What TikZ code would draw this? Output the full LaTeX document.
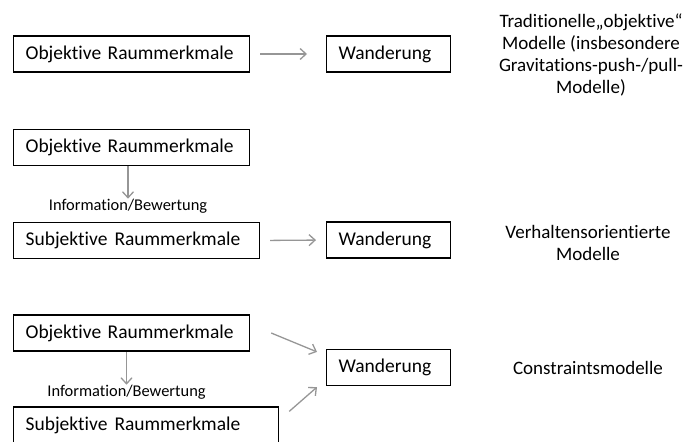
\documentclass[tikz,border=0pt]{standalone}
\usepackage{fontspec}
\setmainfont{Carlito}[Ligatures={NoCommon}]
\usetikzlibrary{arrows.meta}
\usetikzlibrary{calc}
\pgfdeclarelayer{edgelayer}
\pgfdeclarelayer{nodelayer}
\pgfsetlayers{edgelayer,nodelayer,main}
\definecolor{arrowgray}{RGB}{150,150,150}
\tikzstyle{none}=[inner sep=0pt]
\tikzstyle{box}=[rectangle,draw=black,line width=1.2pt,fill=white,anchor=west,minimum height=36pt,inner xsep=12pt,inner ysep=0pt,align=left,font=\fontsize{19.5}{22}\selectfont]
\tikzstyle{info}=[inner sep=0pt,font=\fontsize{16.4}{18}\selectfont]
\tikzstyle{model}=[inner sep=0pt,align=center,font=\fontsize{19}{22}\selectfont]
\tikzstyle{flow}=[-{Straight Barb[length=6pt,width=11pt]},draw=arrowgray,line width=1.3pt]

\begin{document}
\begin{tikzpicture}[x=1pt,y=-1pt]
	\useasboundingbox (0,0) rectangle (684,441);
	\begin{pgfonlayer}{nodelayer}
		\node [style=box,text width=212pt] (0) at (13, 54) {Objektive Raummerkmale};
		\node [style=box,text width=100pt] (1) at (326, 54) {Wanderung};
		\node [style=model] (2) at (591, 55) {Traditionelle„objektive“\\Modelle (insbesondere\\Gravitations-push-/pull-\\Modelle)};
		\node [style=box,text width=212pt] (3) at (13, 147.5) {Objektive Raummerkmale};
		\node [style=info] (4) at (128, 206) {Information/Bewertung};
		\node [style=box,text width=222pt] (5) at (13, 240.5) {Subjektive\hspace{7pt}Raummerkmale};
		\node [style=box,text width=100pt] (6) at (326, 240) {Wanderung};
		\node [style=model] (7) at (588, 243) {Verhaltensorientierte\\Modelle};
		\node [style=box,text width=212pt] (8) at (13, 333) {Objektive Raummerkmale};
		\node [style=info] (9) at (126.5, 392) {Information/Bewertung};
		\node [style=box,text width=241pt] (10) at (13, 425) {Subjektive\hspace{7pt}Raummerkmale};
		\node [style=box,text width=100pt] (11) at (326, 367.5) {Wanderung};
		\node [style=model] (12) at (588, 368) {Constraintsmodelle};
	\end{pgfonlayer}
	\begin{pgfonlayer}{edgelayer}
		\draw [style=flow,shorten <=10pt,shorten >=19pt] (0.east) to (1.west);
		\draw [style=flow] (4.north |- 3.south) to (4.north);
		\draw [style=flow,shorten <=10pt,shorten >=10pt] (5.east) to (6.west);
		\draw [style=flow] (9.north |- 8.south) to (9.north);
		\draw [style=flow] ($(8.east)+(21,0)$) to ($(11.north west)+(-9,3)$);
		\draw [style=flow] ($(10.north east)+(10,5)$) to ($(11.south west)+(-9,1)$);
	\end{pgfonlayer}
\end{tikzpicture}
\end{document}
